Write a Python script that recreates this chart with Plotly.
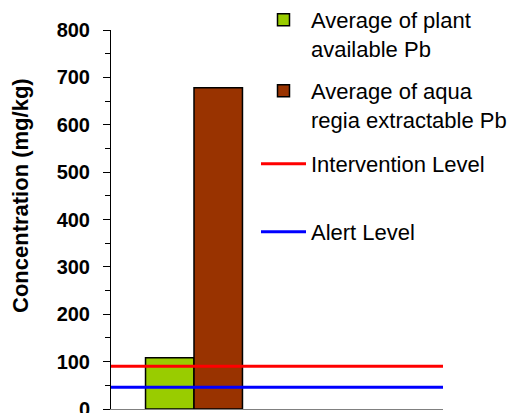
import plotly.graph_objects as go

categories = [0]
plant_available = [108]
aqua_regia = [678]
x_span = [-0.5, 1.5]
intervention_level = [90, 90]
alert_level = [46, 46]

FONT = "Arial, Liberation Sans, sans-serif"
OFF = 8  # page body margin
W, H = 520 - OFF, 413 - OFF
L, R, T, B = 111 - OFF, 77, 30 - OFF, 4
pw, ph = W - L - R, H - T - B

def px(x):
    return (x - OFF - L) / pw

def py(y):
    return (H - B - (y - OFF)) / ph

fig = go.Figure()
fig.add_trace(go.Bar(x=categories, y=plant_available, name="Average of plant<br>available Pb",
                     marker=dict(color="#99CC00", line=dict(color="black", width=1.5)),
                     legend="legend"))
fig.add_trace(go.Bar(x=categories, y=aqua_regia, name="Average of aqua<br>regia extractable Pb",
                     marker=dict(color="#993300", line=dict(color="black", width=1.5)),
                     legend="legend2"))
fig.add_trace(go.Scatter(x=x_span, y=intervention_level, mode="lines", name="Intervention Level",
                         line=dict(color="#FF0000", width=3), legend="legend3"))
fig.add_trace(go.Scatter(x=x_span, y=alert_level, mode="lines", name="Alert Level",
                         line=dict(color="#0000FF", width=3), legend="legend4"))

def leg(top_px):
    return dict(x=px(256), y=py(top_px), xanchor="left", yanchor="top",
                font=dict(family=FONT, size=22, color="black"), bgcolor="rgba(0,0,0,0)",
                itemwidth=45, valign="top", tracegroupgap=0)

fig.update_layout(
    width=W, height=H,
    margin=dict(l=L, r=R, t=T, b=B, autoexpand=False),
    paper_bgcolor="white", plot_bgcolor="white",
    barmode="group", bargap=0.416, bargroupgap=0,
    showlegend=True,
    legend=leg(-1), legend2=leg(70), legend3=leg(143), legend4=leg(211),
    xaxis=dict(range=x_span, showticklabels=False, ticks="", showgrid=False, zeroline=False,
               showline=True, linecolor="#808080", linewidth=1, automargin=False),
    yaxis=dict(range=[0, 800], dtick=100, showgrid=False, zeroline=False, showline=True,
               linecolor="black", linewidth=1, ticks="outside", ticklen=7, tickcolor="black",
               minor=dict(dtick=50, ticks="outside", ticklen=5, tickcolor="black"),
               ticklabelstandoff=9, automargin=False, ticklabeloverflow="allow",
               tickfont=dict(family=FONT, size=20, color="black", weight="bold")),
    annotations=[dict(text="<b>Concentration (mg/kg)</b>", textangle=-90, showarrow=False,
                      xref="paper", yref="paper", x=px(20), y=py(195), xanchor="center",
                      yanchor="middle", borderpad=0,
                      font=dict(family=FONT, size=22, color="black"))],
)

fig.write_html("out.html")
